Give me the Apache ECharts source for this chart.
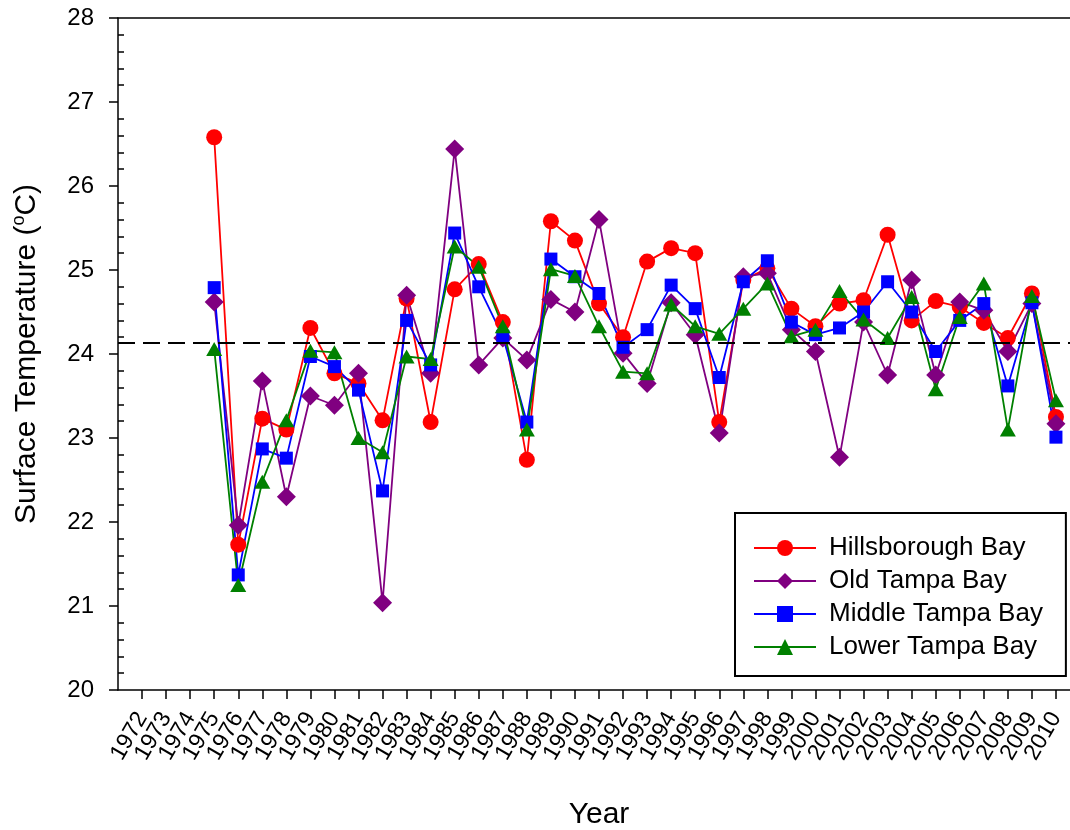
<!DOCTYPE html>
<html>
<head>
<meta charset="utf-8">
<script src="https://cdn.jsdelivr.net/npm/echarts@6/dist/echarts.min.js"></script>
<style>
html,body{margin:0;padding:0;background:#fff}
#chart{width:1070px;height:830px}
</style>
</head>
<body>
<div id="chart"></div>
<script>
var years = [1972,1973,1974,1975,1976,1977,1978,1979,1980,1981,1982,1983,1984,1985,1986,1987,1988,1989,1990,
	1991,1992,1993,1994,1995,1996,1997,1998,1999,2000,2001,2002,2003,2004,2005,2006,2007,2008,2009,2010];

var hillsborough = [null,null,null,26.58,21.73,23.23,23.10,24.31,23.77,23.65,23.21,24.66,23.19,24.77,25.07,24.38,22.74,25.58,25.35,
	24.60,24.20,25.10,25.26,25.20,23.19,24.88,25.02,24.54,24.33,24.60,24.64,25.42,24.40,24.63,24.56,24.37,24.19,24.72,23.25];
var oldTampa = [null,null,null,24.62,21.96,23.68,22.30,23.50,23.39,23.77,21.04,24.70,23.77,26.44,23.87,24.19,23.93,24.65,24.50,
	25.60,24.01,23.65,24.61,24.23,23.06,24.92,24.96,24.29,24.03,22.77,24.38,23.75,24.88,23.75,24.62,24.52,24.03,24.60,23.17];
var middleTampa = [null,null,null,24.79,21.37,22.87,22.76,23.97,23.85,23.57,22.37,24.40,23.87,25.44,24.80,24.21,23.19,25.13,24.92,
	24.72,24.08,24.29,24.82,24.54,23.72,24.86,25.11,24.38,24.23,24.31,24.50,24.86,24.50,24.03,24.40,24.60,23.62,24.61,23.01];
var lowerTampa = [null,null,null,24.06,21.25,22.48,23.21,24.04,24.02,23.00,22.83,23.97,23.94,25.28,25.04,24.33,23.10,25.01,24.93,
	24.33,23.79,23.77,24.59,24.33,24.24,24.54,24.84,24.21,24.29,24.75,24.41,24.19,24.68,23.58,24.44,24.84,23.10,24.69,23.45];
var meanTemp = 24.13;

var font = 'Liberation Sans, Arial, sans-serif';

function pairs(vals){
	return years.map(function(y, i){ return [y, vals[i]]; }).filter(function(p){ return p[1] != null; });
}

function bay(name, vals, color, symbol, size){
	return {
		name: name,
		type: 'line',
		data: pairs(vals),
		symbol: symbol,
		symbolSize: size,
		lineStyle: {color: color, width: 1.8},
		itemStyle: {color: color},
		emphasis: {disabled: true}
	};
}

var series = [
	bay('Hillsborough Bay', hillsborough, '#ff0000', 'circle', 16),
	bay('Old Tampa Bay', oldTampa, '#800080', 'diamond', 19),
	bay('Middle Tampa Bay', middleTampa, '#0000ff', 'rect', 13),
	bay('Lower Tampa Bay', lowerTampa, '#008000', 'triangle', [16, 14])
];
series[3].markLine = {
	silent: true,
	symbol: 'none',
	label: {show: false},
	lineStyle: {color: '#000', type: [17, 8], width: 2},
	data: [{yAxis: meanTemp}]
};

var axisBlack = {color: '#000', width: 1.5};
var gridLeft = 118, gridRight = -10;

var chart = echarts.init(document.getElementById('chart'));
chart.setOption({
	animation: false,
	backgroundColor: '#fff',
	textStyle: {fontFamily: font},
	grid: {left: gridLeft, top: 18, right: gridRight, bottom: 140, outerBoundsMode: 'none', containLabel: false},
	legend: {
		orient: 'vertical',
		left: 735,
		top: 513,
		padding: [22, 23, 16, 18],
		itemWidth: 62,
		itemHeight: 20,
		itemGap: 7,
		backgroundColor: '#fff',
		borderColor: '#000',
		borderWidth: 2,
		borderRadius: 0,
		textStyle: {fontSize: 26, lineHeight: 26, color: '#000', fontFamily: font, padding: [0, 0, 0, 8]},
		data: ['Hillsborough Bay', 'Old Tampa Bay', 'Middle Tampa Bay', 'Lower Tampa Bay']
	},
	xAxis: [{
		type: 'value',
		min: 1971,
		max: 2011,
		interval: 1,
		name: 'Year',
		nameLocation: 'middle',
		nameGap: 110,
		nameTextStyle: {fontSize: 30, color: '#000', fontFamily: font},
		splitLine: {show: false},
		axisLine: {onZero: false, lineStyle: axisBlack},
		axisTick: {length: 9, lineStyle: axisBlack},
		axisLabel: {
			rotate: 60, fontSize: 23, color: '#000', margin: 24,
			showMinLabel: false, showMaxLabel: false,
			formatter: function(v){ return v > 2010 ? '' : String(v); }
		}
	}, {
		type: 'value',
		position: 'top',
		min: 1971,
		max: 2011,
		splitLine: {show: false},
		axisLine: {onZero: false, lineStyle: axisBlack},
		axisTick: {show: false},
		axisLabel: {show: false}
	}],
	yAxis: [{
		type: 'value',
		position: 'left',
		min: 20,
		max: 28,
		interval: 1,
		name: '{t|Surface Temperature (}{sup|o}{t|C)}',
		nameLocation: 'middle',
		nameGap: 74,
		nameTextStyle: {
			color: '#000',
			rich: {
				t: {fontSize: 30, fontFamily: font, color: '#000', lineHeight: 34},
				sup: {fontSize: 18, fontFamily: font, color: '#000', verticalAlign: 'top', lineHeight: 20}
			}
		},
		splitLine: {show: false},
		axisLine: {onZero: false, lineStyle: axisBlack},
		axisTick: {length: 9, lineStyle: axisBlack},
		axisLabel: {fontSize: 24, color: '#000', margin: 24}
	}, {
		// minor ticks pointing into the plot: a right-side axis moved over to the left edge
		type: 'value',
		position: 'right',
		offset: -(1070 - gridLeft - gridRight),
		min: 20,
		max: 28,
		interval: 1,
		splitLine: {show: false},
		axisLine: {show: false},
		axisTick: {show: false},
		minorTick: {show: true, splitNumber: 5, length: 6, lineStyle: axisBlack},
		minorSplitLine: {show: false},
		axisLabel: {show: false}
	}],
	series: series
});
</script>
</body>
</html>
